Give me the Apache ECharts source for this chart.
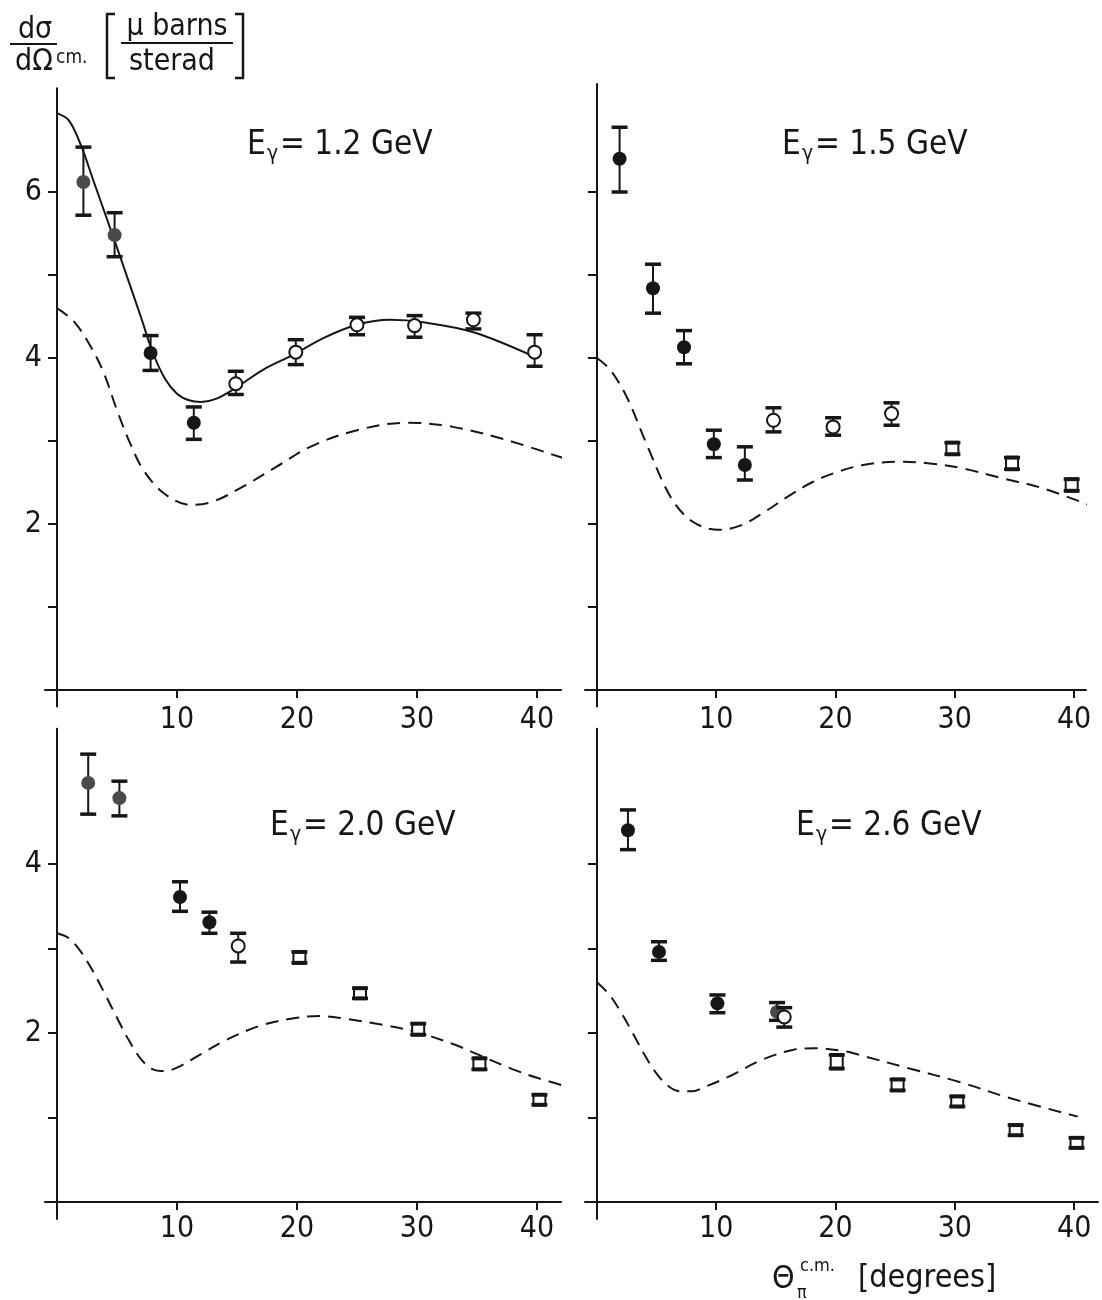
<!DOCTYPE html>
<html lang="en">
<head>
  <meta charset="utf-8">
  <title>Pion photoproduction, d&sigma;/d&Omega;</title>
  <script src="https://cdn.jsdelivr.net/npm/echarts@6/dist/echarts.min.js"></script>
  <style>
    html, body { margin: 0; padding: 0; background: #fff; }
    #chart { width: 1102px; height: 1300px; }
  </style>
</head>
<body>
<div id="chart"></div>
<script>
  // point kinds: 0 = filled, 1 = grey filled, 2 = open circle, 3 = open square
  // points: [theta, value, errLow, errHigh, kind]
  const points12 = [
    [2.2, 6.12, 5.72, 6.54, 1], [4.8, 5.48, 5.22, 5.75, 1], [7.8, 4.06, 3.85, 4.27, 0],
    [11.4, 3.22, 3.02, 3.41, 0], [14.9, 3.69, 3.56, 3.84, 2], [19.9, 4.07, 3.92, 4.22, 2],
    [25.0, 4.40, 4.28, 4.49, 2], [29.8, 4.39, 4.25, 4.51, 2], [34.7, 4.46, 4.35, 4.54, 2],
    [39.8, 4.07, 3.90, 4.28, 2]
  ];
  const fit12 = [
    [0, 6.95], [1, 6.86], [2, 6.56], [3, 6.15], [4, 5.74], [5, 5.33], [6, 4.91], [7, 4.49],
    [8, 4.06], [9, 3.75], [10, 3.57], [11, 3.49], [12, 3.47], [13.3, 3.51], [15.0, 3.65],
    [17.2, 3.86], [19.7, 4.04], [22.2, 4.24], [25.0, 4.40], [27.75, 4.46], [30.5, 4.43],
    [34.7, 4.31], [39.7, 4.02]
  ];
  const model12 = [
    [0, 4.60], [1.4, 4.44], [2.8, 4.14], [3.9, 3.82], [5.0, 3.37], [6.1, 2.97], [7.2, 2.65],
    [8.9, 2.37], [11.1, 2.23], [13.0, 2.27], [15.5, 2.45], [18.3, 2.69], [21.1, 2.93],
    [25.0, 3.13], [29.2, 3.22], [33.0, 3.17], [37.5, 3.01], [43.5, 2.73]
  ];

  const points15 = [
    [1.9, 6.40, 6.00, 6.78, 0], [4.7, 4.84, 4.54, 5.13, 0], [7.3, 4.13, 3.93, 4.33, 0],
    [9.8, 2.96, 2.80, 3.13, 0], [12.4, 2.71, 2.53, 2.93, 0], [14.8, 3.25, 3.11, 3.40, 2],
    [19.8, 3.17, 3.07, 3.28, 2], [24.7, 3.33, 3.19, 3.46, 2], [29.8, 2.91, 2.84, 2.98, 3],
    [34.8, 2.73, 2.66, 2.80, 3], [39.8, 2.47, 2.40, 2.54, 3]
  ];
  const model15 = [
    [0, 4.00], [1.1, 3.86], [2.5, 3.53], [4.2, 2.95], [6.2, 2.32], [8.0, 2.03], [10.2, 1.93],
    [12.0, 1.98], [14.0, 2.14], [16.0, 2.33], [18.0, 2.50], [20.0, 2.62], [22.3, 2.71],
    [25.1, 2.75], [27.9, 2.73], [30.7, 2.67], [34.0, 2.55], [37.4, 2.43], [42.3, 2.17]
  ];

  const points20 = [
    [2.6, 4.96, 4.59, 5.30, 1], [5.2, 4.78, 4.57, 4.98, 1], [10.25, 3.61, 3.44, 3.79, 0],
    [12.7, 3.31, 3.18, 3.43, 0], [15.1, 3.03, 2.84, 3.18, 2], [20.2, 2.90, 2.83, 2.95, 3],
    [25.25, 2.47, 2.41, 2.53, 3], [30.1, 2.05, 1.98, 2.11, 3], [35.2, 1.64, 1.57, 1.70, 3],
    [40.2, 1.21, 1.16, 1.25, 3]
  ];
  const model20 = [
    [0, 3.18], [1.0, 3.12], [2.0, 2.96], [3.0, 2.73], [4.0, 2.46], [5.0, 2.18], [6.0, 1.91],
    [7.0, 1.69], [8.0, 1.57], [9.0, 1.55], [10.0, 1.59], [12.0, 1.75], [14.0, 1.91],
    [17.0, 2.09], [20.0, 2.18], [22.0, 2.20], [24.0, 2.17], [27.0, 2.10], [30.0, 2.01],
    [33.0, 1.87], [35.0, 1.75], [38.0, 1.57], [40.0, 1.47], [43.4, 1.33]
  ];

  const points26 = [
    [2.6, 4.40, 4.17, 4.64, 0], [5.2, 2.96, 2.86, 3.08, 0], [10.1, 2.35, 2.24, 2.45, 0],
    [15.1, 2.25, 2.15, 2.36, 1], [15.7, 2.19, 2.07, 2.30, 2], [20.1, 1.66, 1.58, 1.74, 3],
    [25.2, 1.38, 1.33, 1.45, 3], [30.2, 1.19, 1.14, 1.24, 3], [35.1, 0.85, 0.79, 0.91, 3],
    [40.2, 0.70, 0.65, 0.75, 3]
  ];
  const model26 = [
    [0, 2.60], [1.0, 2.46], [2.0, 2.25], [3.0, 2.00], [4.0, 1.74], [5.0, 1.52], [6.0, 1.37],
    [7.0, 1.31], [8.0, 1.31], [9.0, 1.36], [11.0, 1.48], [13.8, 1.68], [16.4, 1.80],
    [18.3, 1.82], [20.9, 1.78], [22.0, 1.74], [26.2, 1.58], [30.4, 1.42], [34.6, 1.23],
    [40.3, 1.01]
  ];

  const xTickValues = [10, 20, 30, 40];
  const yTicksTop = [1, 2, 3, 4, 5, 6];
  const yLabelsTop = [2, 4, 6];
  const yTicksBottom = [1, 2, 3, 4];
  const yLabelsBottom = [2, 4];

  const FONT = '"DejaVu Sans Condensed", "Liberation Sans", sans-serif';
  const INK = '#161616';

  const chart = echarts.init(document.getElementById('chart'));

  function xAxisFor(gi, max, margin) {
    return {
      type: 'value', gridIndex: gi, min: -1, max: max,
      axisLine: { onZero: true, lineStyle: { color: INK, width: 2 } },
      axisTick: { customValues: xTickValues, length: 8, lineStyle: { color: INK, width: 2 } },
      axisLabel: { customValues: xTickValues, margin: margin, fontSize: 30, fontFamily: FONT, color: INK },
      splitLine: { show: false }
    };
  }

  function yAxisFor(gi, max, ticks, labels) {
    return {
      type: 'value', gridIndex: gi, min: -0.2, max: max,
      axisLine: { show: true, onZero: true, lineStyle: { color: INK, width: 2 } },
      axisTick: { show: true, customValues: ticks, length: 9, lineStyle: { color: INK, width: 2 } },
      axisLabel: labels
        ? { customValues: labels, margin: 3, fontSize: 30, fontFamily: FONT, color: INK }
        : { show: false },
      splitLine: { show: false }
    };
  }

  function renderPoint(params, api) {
    const p = api.coord([api.value(0), api.value(1)]);
    const lo = api.coord([api.value(0), api.value(2)]);
    const hi = api.coord([api.value(0), api.value(3)]);
    const kind = api.value(4);
    const cx = p[0], cy = p[1];
    let yTop = hi[1], yBot = lo[1];
    if (kind === 3) {
      yTop = Math.min(yTop, cy - 5);
      yBot = Math.max(yBot, cy + 5);
    }
    const children = [
      { type: 'line', shape: { x1: cx, y1: yTop, x2: cx, y2: yBot }, style: { stroke: INK, lineWidth: 2 } },
      { type: 'line', shape: { x1: cx - 8, y1: yTop, x2: cx + 8, y2: yTop }, style: { stroke: INK, lineWidth: 3.5 } },
      { type: 'line', shape: { x1: cx - 8, y1: yBot, x2: cx + 8, y2: yBot }, style: { stroke: INK, lineWidth: 3.5 } }
    ];
    if (kind === 3) {
      children.push({ type: 'rect', shape: { x: cx - 6, y: yTop, width: 12, height: yBot - yTop },
        style: { fill: '#fff', stroke: INK, lineWidth: 2 } });
      children.push({ type: 'line', shape: { x1: cx - 7, y1: yTop, x2: cx + 7, y2: yTop }, style: { stroke: INK, lineWidth: 4 } });
      children.push({ type: 'line', shape: { x1: cx - 7, y1: yBot, x2: cx + 7, y2: yBot }, style: { stroke: INK, lineWidth: 4 } });
      children.push({ type: 'rect', shape: { x: cx - 3, y: cy - 2.5, width: 6, height: 5 }, style: { fill: '#fff' } });
    } else if (kind === 2) {
      children.push({ type: 'circle', shape: { cx: cx, cy: cy, r: 6.5 }, style: { fill: '#fff', stroke: INK, lineWidth: 2 } });
    } else {
      children.push({ type: 'circle', shape: { cx: cx, cy: cy, r: 7 }, style: { fill: kind === 1 ? '#4a4a4a' : INK } });
    }
    return { type: 'group', children: children };
  }

  function pointSeries(gi, data) {
    return {
      type: 'custom', xAxisIndex: gi, yAxisIndex: gi, clip: false,
      renderItem: renderPoint, encode: { x: 0, y: 1 }, data: data, z: 5
    };
  }

  function curveSeries(gi, data, dashed) {
    return {
      type: 'line', xAxisIndex: gi, yAxisIndex: gi, data: data, smooth: 0.35,
      showSymbol: false, clip: false, silent: true,
      lineStyle: { color: INK, width: 2, type: dashed ? [13, 8] : 'solid' }
    };
  }

  function energyLabel(x, y, value) {
    const base = { fill: INK, fontFamily: FONT, textVerticalAlign: 'middle' };
    return [
      { type: 'text', x: x, y: y, style: Object.assign({ text: 'E', fontSize: 33 }, base) },
      { type: 'text', x: x + 20, y: y + 10, style: Object.assign({ text: 'γ', fontSize: 21 }, base) },
      { type: 'text', x: x + 33, y: y, style: Object.assign({ text: '= ' + value + ' GeV', fontSize: 33 }, base) }
    ];
  }

  function txt(x, y, text, size, align) {
    return { type: 'text', x: x, y: y, style: { text: text, fontSize: size, fontFamily: FONT, fill: INK,
      textAlign: align || 'left', textVerticalAlign: 'middle' } };
  }

  function seg(x1, y1, x2, y2, w) {
    return { type: 'line', shape: { x1: x1, y1: y1, x2: x2, y2: y2 }, style: { stroke: INK, lineWidth: w || 2 } };
  }

  const graphics = [].concat(
    energyLabel(247, 145, '1.2'),
    energyLabel(782, 145, '1.5'),
    energyLabel(270, 826, '2.0'),
    energyLabel(796, 826, '2.6'),
    [
      // y title: dσ/dΩ c.m. [μ barns / sterad]
      txt(35, 30, 'dσ', 30, 'center'),
      seg(10, 44, 57, 44, 2),
      txt(34, 62, 'dΩ', 30, 'center'),
      txt(56, 58, 'cm.', 19),
      { type: 'polyline', shape: { points: [[115, 14], [107, 14], [107, 78], [115, 78]] }, style: { stroke: INK, lineWidth: 2.5, fill: null } },
      txt(177, 27, 'μ barns', 30, 'center'),
      seg(121, 43, 233, 43, 2),
      txt(172, 62, 'sterad', 30, 'center'),
      { type: 'polyline', shape: { points: [[235, 14], [243, 14], [243, 78], [235, 78]] }, style: { stroke: INK, lineWidth: 2.5, fill: null } },
      // x title: Θπ c.m. [degrees]
      txt(772, 1280, 'Θ', 32),
      txt(797, 1293, 'π', 18),
      txt(800, 1266, 'c.m.', 18),
      txt(858, 1279, '[degrees]', 32)
    ]
  );

  const option = {
    backgroundColor: '#fff',
    animation: false,
    grid: [
      { left: 45, top: 88.2, width: 516, height: 618.4 },
      { left: 585, top: 84.1, width: 501, height: 622.5 },
      { left: 45, top: 728.8, width: 516, height: 490.1 },
      { left: 585, top: 728.8, width: 513, height: 490.1 }
    ],
    xAxis: [xAxisFor(0, 42, -1), xAxisFor(1, 41, -1), xAxisFor(2, 42, -5), xAxisFor(3, 42, -5)],
    yAxis: [
      yAxisFor(0, 7.25, yTicksTop, yLabelsTop),
      yAxisFor(1, 7.3, yTicksTop, null),
      yAxisFor(2, 5.6, yTicksBottom, yLabelsBottom),
      yAxisFor(3, 5.6, yTicksBottom, null)
    ],
    series: [
      curveSeries(0, model12, true),
      curveSeries(0, fit12, false),
      pointSeries(0, points12),
      curveSeries(1, model15, true),
      pointSeries(1, points15),
      curveSeries(2, model20, true),
      pointSeries(2, points20),
      curveSeries(3, model26, true),
      pointSeries(3, points26)
    ],
    graphic: graphics
  };

  chart.setOption(option);
</script>
</body>
</html>
